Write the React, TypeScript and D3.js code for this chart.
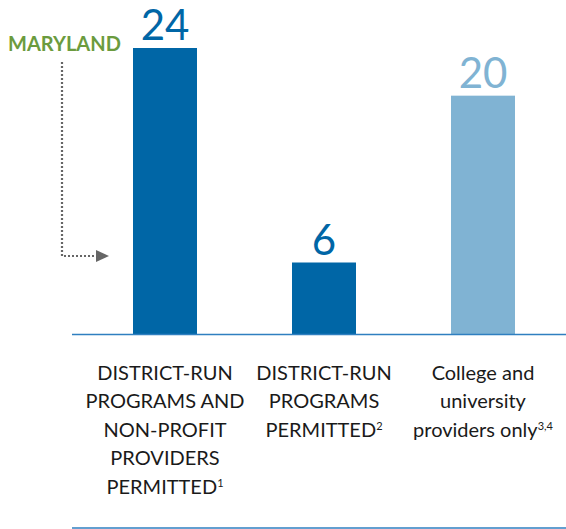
import React from "react";
import * as d3 from "d3";

const categories = ["A", "B", "C"];
const values = [24, 6, 20];
const labelLines: string[][] = [
  ["DISTRICT-RUN", "PROGRAMS AND", "NON-PROFIT", "PROVIDERS", "PERMITTED"],
  ["DISTRICT-RUN", "PROGRAMS", "PERMITTED"],
  ["College and", "university", "providers only"],
];
const footnotes = ["1", "2", "3,4"];
const barColors = ["#0066a6", "#0066a6", "#80b3d3"];
const highlightLabel = "MARYLAND";

const W = 566;
const H = 529;
const FONT = "Lato, 'Open Sans', sans-serif";

export default function App() {
  const x = d3.scalePoint<string>().domain(categories).range([165, 483]);
  const y = d3.scaleLinear().domain([0, 24]).range([334, 48]);
  const bw = 64;
  const lineColor = "#2f7fc0";
  const arrowY = 256;

  return (
    <svg
      width={W}
      height={H}
      style={{ position: "absolute", left: 0, top: 0, background: "#fff" }}
      fontFamily={FONT}
    >
      {categories.map((c, i) => (
        <g key={c}>
          <rect
            x={(x(c) as number) - bw / 2}
            y={y(values[i])}
            width={bw}
            height={y(0) - y(values[i])}
            fill={barColors[i]}
          />
          <text
            x={x(c)}
            y={y(values[i]) - 8}
            textAnchor="middle"
            fontSize={42}
            fontWeight={400}
            fill={barColors[i]}
          >
            {values[i]}
          </text>
          <text textAnchor="middle" fontSize={20} fill="#1a1a1a">
            {labelLines[i].map((ln, j) => (
              <tspan key={j} x={x(c)} y={380 + j * 28.4}>
                {ln}
                {j === labelLines[i].length - 1 ? (
                  <tspan fontSize={11} dy={-7}>
                    {footnotes[i]}
                  </tspan>
                ) : null}
              </tspan>
            ))}
          </text>
        </g>
      ))}
      <line x1={72} x2={W} y1={334.5} y2={334.5} stroke={lineColor} strokeWidth={1.5} />
      <line x1={72} x2={W} y1={528} y2={528} stroke={lineColor} strokeWidth={1.5} />
      <text x={8} y={51} fontSize={20} fontWeight={700} fill="#6b9b3e">
        {highlightLabel}
      </text>
      <path
        d={`M62,62 L62,${arrowY} L97,${arrowY}`}
        fill="none"
        stroke="#666"
        strokeWidth={2.2}
        strokeDasharray="2 2"
      />
      <path d={`M96,${arrowY - 6} L109,${arrowY} L96,${arrowY + 6} Z`} fill="#666" />
    </svg>
  );
}
